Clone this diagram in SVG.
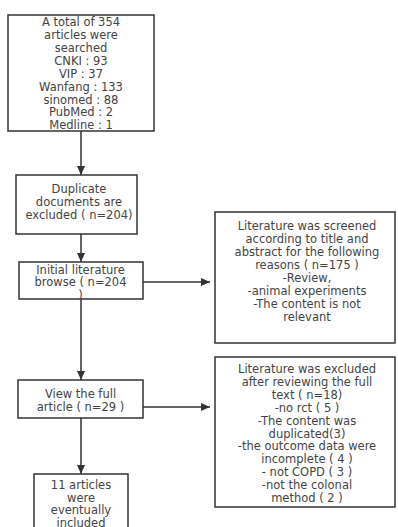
<svg xmlns="http://www.w3.org/2000/svg" width="398" height="527" viewBox="0 0 398 527">
<style>
.box{fill:#fff;stroke:#333;stroke-width:1.5}
text{font-family:"DejaVu Sans","Noto Sans",sans-serif;font-size:11.5px;fill:#444;text-anchor:middle}
.c{stroke:#333;stroke-width:1.5;fill:none}
</style>
<defs>
<marker id="ah" markerWidth="10" markerHeight="10" refX="9" refY="5" orient="auto" markerUnits="userSpaceOnUse">
<path d="M0,1 L9,5 L0,9 z" fill="#333"/>
</marker>
</defs>
<rect width="398" height="527" fill="#fff"/>
<g id="connectors">
<line class="c" x1="81" y1="131" x2="81" y2="175" marker-end="url(#ah)"/>
<line class="c" x1="81" y1="234" x2="81" y2="262" marker-end="url(#ah)"/>
<line class="c" x1="143" y1="282" x2="210" y2="282" marker-end="url(#ah)"/>
<line class="c" x1="81" y1="299" x2="81" y2="380" marker-end="url(#ah)"/>
<line class="c" x1="143" y1="407" x2="210" y2="407" marker-end="url(#ah)"/>
<line class="c" x1="81" y1="418" x2="81" y2="474" marker-end="url(#ah)"/>
</g>
<g id="n1">
<rect class="box" x="8" y="15" width="146" height="116"/>
<text x="81" y="26">A total of 354</text>
<text x="81" y="39">articles were</text>
<text x="81" y="52">searched</text>
<text x="81" y="65">CNKI : 93</text>
<text x="81" y="78">VIP : 37</text>
<text x="81" y="90.5">Wanfang : 133</text>
<text x="81" y="103.5">sinomed : 88</text>
<text x="81" y="116">PubMed : 2</text>
<text x="81" y="129">Medline : 1</text>
</g>
<g id="n2">
<rect class="box" x="16" y="175" width="121" height="59"/>
<text x="79" y="192.5">Duplicate</text>
<text x="79" y="206">documents are</text>
<text x="79" y="218.5">excluded ( n=204)</text>
</g>
<g id="n3">
<rect class="box" x="19" y="262" width="124" height="37"/>
<text x="80.5" y="273.5">Initial literature</text>
<text x="80.5" y="286">browse ( n=204</text>
<text x="80.5" y="298.5">)</text>
</g>
<g id="n4">
<rect class="box" x="215" y="212" width="180" height="131"/>
<text x="307" y="229.5">Literature was screened</text>
<text x="307" y="242.5">according to title and</text>
<text x="307" y="256">abstract for the following</text>
<text x="307" y="269">reasons ( n=175 )</text>
<text x="307" y="282">-Review,</text>
<text x="307" y="295">-animal experiments</text>
<text x="307" y="308">-The content is not</text>
<text x="307" y="321">relevant</text>
</g>
<g id="n5">
<rect class="box" x="18" y="380" width="125" height="38"/>
<text x="80.5" y="397.5">View the full</text>
<text x="80.5" y="410.5">article ( n=29 )</text>
</g>
<g id="n6">
<rect class="box" x="215" y="357" width="180" height="150"/>
<text x="307" y="372.5">Literature was excluded</text>
<text x="307" y="385.5">after reviewing the full</text>
<text x="307" y="398.5">text ( n=18)</text>
<text x="307" y="411.5">-no rct ( 5 )</text>
<text x="307" y="424.5">-The content was</text>
<text x="307" y="437.5">duplicated(3)</text>
<text x="307" y="450">-the outcome data were</text>
<text x="307" y="463">incomplete ( 4 )</text>
<text x="307" y="476">- not COPD ( 3 )</text>
<text x="307" y="489">-not the colonal</text>
<text x="307" y="502">method ( 2 )</text>
</g>
<g id="n7">
<rect class="box" x="34" y="474" width="94" height="60"/>
<text x="81" y="488.5">11 articles</text>
<text x="81" y="501.5">were</text>
<text x="81" y="514">eventually</text>
<text x="81" y="526.5">included</text>
</g>
</svg>
